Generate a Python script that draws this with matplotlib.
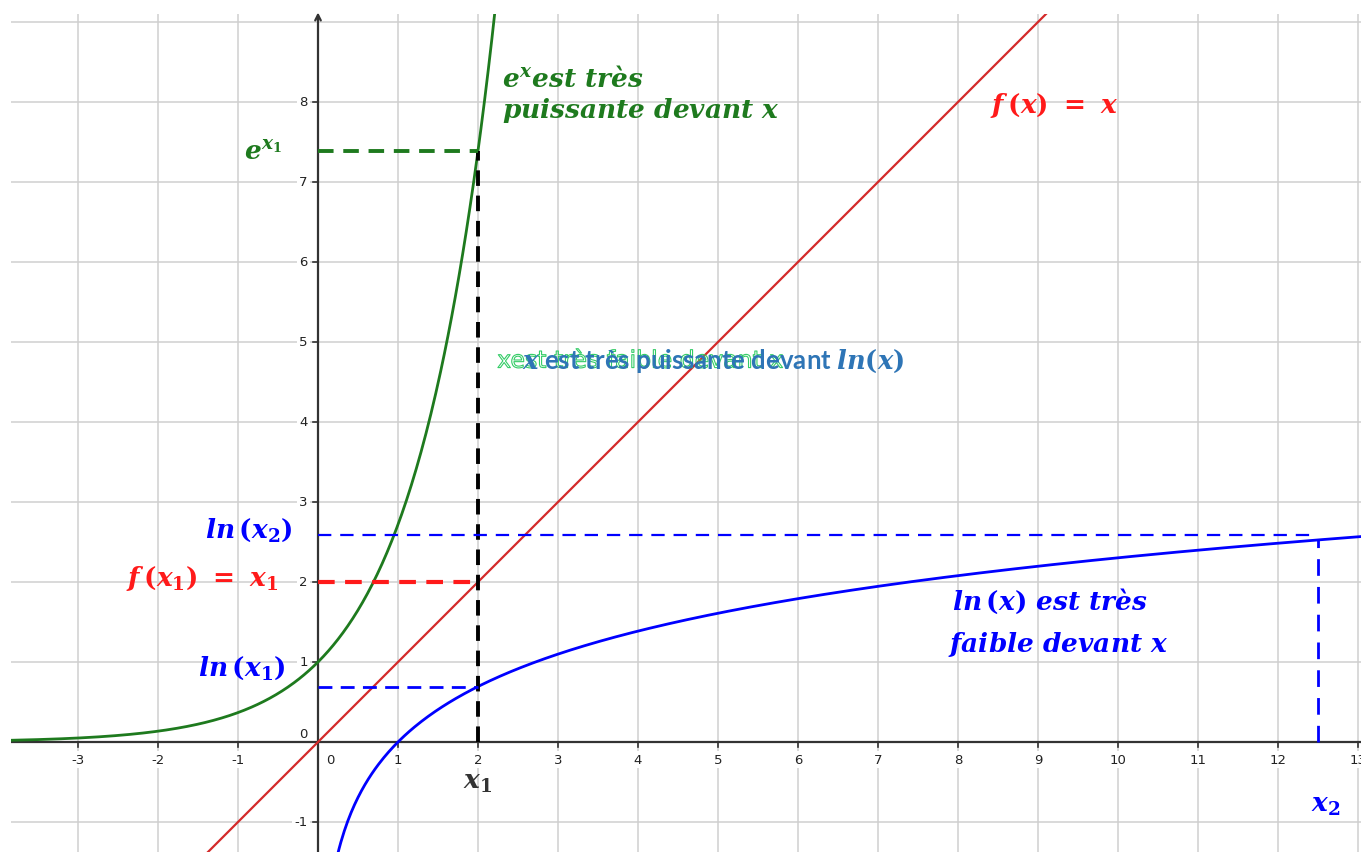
import numpy as np
import matplotlib
matplotlib.use("Agg")
import matplotlib.pyplot as plt
import matplotlib.patheffects as pe

# ---- data ----
x1 = 2.0
x2 = 12.5
ln_x2_level = 2.59          # level of the horizontal dashed line
x_ticks = list(range(-3, 14))
y_ticks = [-1, 1, 2, 3, 4, 5, 6, 7, 8]
xlim = (-3.8375, 13.0375)
ylim = (-1.375, 9.1)

plt.rcParams['mathtext.fontset'] = 'custom'
plt.rcParams['mathtext.it'] = 'DejaVu Serif:italic:bold'
plt.rcParams['mathtext.rm'] = 'DejaVu Serif:bold'
plt.rcParams['mathtext.bf'] = 'DejaVu Serif:bold'

W, H = 1361, 853
fig = plt.figure(figsize=(W / 100, H / 100), dpi=100)
ax = fig.add_axes([11 / W, 0, 1350 / W, 838 / H])
ax.set_xlim(*xlim)
ax.set_ylim(*ylim)
ax.axis('off')

GRID = '#cfcfcf'
AXC = '#333333'
GREEN = '#1e7a1e'
RED_LINE = '#d42a2a'
RED = '#ff1a1a'
BLUE = '#0000ff'

# grid
for xv in x_ticks:
    ax.axvline(xv, color=GRID, lw=1.1, zorder=0)
for yv in y_ticks + [0, 9]:
    ax.axhline(yv, color=GRID, lw=1.1, zorder=0)

# axes
ax.axhline(0, color=AXC, lw=1.6, zorder=3)
ax.annotate('', xy=(0, ylim[1] + 0.02), xytext=(0, ylim[0]),
            arrowprops=dict(arrowstyle='->', lw=1.6, color=AXC, shrinkA=0, shrinkB=0),
            zorder=3, annotation_clip=False)
for xv in x_ticks:
    if xv != 0:
        ax.plot([xv, xv], [0, -0.06], color=AXC, lw=1.2, zorder=3)
for yv in y_ticks:
    ax.plot([-0.06, 0], [yv, yv], color=AXC, lw=1.2, zorder=3)

tick_kw = dict(fontsize=9.5, color='#222222', family='DejaVu Sans',
               bbox=dict(facecolor='white', edgecolor='none', pad=1.5), zorder=2)
for xv in x_ticks:
    if xv == 0:
        continue
    t = ax.text(xv, -0.22, str(xv), ha='center', va='center', **tick_kw)
    t.set_clip_on(True)
ax.text(0.15, -0.22, '0', ha='center', va='center', **tick_kw)
for yv in y_ticks:
    ax.text(-0.13, yv, str(yv), ha='right', va='center', **tick_kw)
ax.text(-0.13, 0.1, '0', ha='right', va='center', **tick_kw)

# curves
xe = np.linspace(xlim[0], 2.25, 400)
ax.plot(xe, np.exp(xe), color=GREEN, lw=2, zorder=4)
xl = np.linspace(xlim[0], xlim[1], 10)
ax.plot(xl, xl, color=RED_LINE, lw=1.6, zorder=4)
xn = np.linspace(0.2, xlim[1], 600)
ax.plot(xn, np.log(xn), color=BLUE, lw=2, zorder=4)

# dashed guides
ax.plot([x1, x1], [0, np.exp(x1)], color='black', lw=2.8, ls=(0, (4, 2.5)), zorder=5)
ax.plot([0, x1], [np.exp(x1)] * 2, color=GREEN, lw=2.8, ls=(0, (4, 2.5)), zorder=5)
ax.plot([0, x1], [x1, x1], color=RED, lw=3, ls=(0, (4, 2.5)), zorder=5)
ax.plot([0, x1], [np.log(x1)] * 2, color=BLUE, lw=2, ls=(0, (5, 3)), zorder=5)
ax.plot([0, x2], [ln_x2_level] * 2, color=BLUE, lw=1.6, ls=(0, (6, 4)), zorder=5)
ax.plot([x2, x2], [0, np.log(x2)], color=BLUE, lw=2, ls=(0, (6, 4)), zorder=5)

# labels
lab = dict(fontsize=19, family='DejaVu Serif', style='italic', weight='bold', zorder=6)
ax.text(2.3, 8.2, r'$e^x$est très', color=GREEN, ha='left', va='baseline', **lab)
ax.text(2.3, 7.81, 'puissante devant $x$', color=GREEN, ha='left', va='baseline', **lab)
ax.text(-0.44, 7.29, r'$e^{x_1}$', color=GREEN, ha='right', va='baseline', **lab)
ax.text(8.4, 7.875, r'$f\,(x)\ =\ x$', color=RED, ha='left', va='baseline', **lab)
ax.text(-0.32, 2.66, r'$ln\,(x_2)$', color=BLUE, ha='right', va='center', **lab)
ax.text(-0.49, 2.06, r'$f\,(x_1)\ =\ x_1$', color=RED, ha='right', va='center', **lab)
ax.text(-0.41, 0.94, r'$ln\,(x_1)$', color=BLUE, ha='right', va='center', **lab)
ax.text(7.93, 1.66, r'$ln\,(x)$ est très', color=BLUE, ha='left', va='baseline', **lab)
ax.text(7.875, 1.14, 'faible devant $x$', color=BLUE, ha='left', va='baseline', **lab)
ax.text(1.99, -0.49, r'$x_1$', color='#333333', ha='center', va='center', **lab)
ax.text(12.6, -0.78, r'$x_2$', color=BLUE, ha='center', va='center', **lab)

# overlapping middle texts
ax.text(2.24, 4.68, 'xest très faible devant x', color='none', fontsize=17,
        family='DejaVu Sans', ha='left', va='baseline', zorder=6,
        path_effects=[pe.Stroke(linewidth=0.8, foreground='#33cc66')])
ax.text(2.55, 4.68, '$x$ est très puissante devant $ln(x)$', color='#2e75b6',
        fontsize=18.5, family='Lato', weight='bold', ha='left', va='baseline', zorder=7)

fig.savefig('out.png', dpi=100, facecolor='white')
